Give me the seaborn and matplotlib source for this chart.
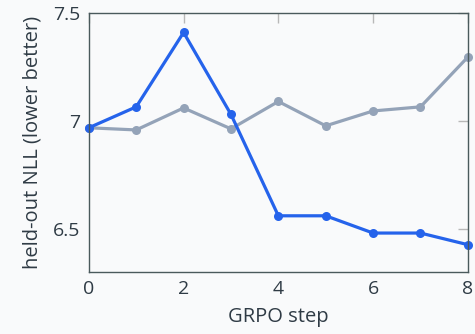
import matplotlib
matplotlib.use("Agg")
import matplotlib.pyplot as plt
import seaborn as sns
import pandas as pd

# values
steps = [0, 1, 2, 3, 4, 5, 6, 7, 8]
nll_blue = [6.968, 7.065, 7.41, 7.03, 6.56, 6.56, 6.48, 6.48, 6.426]
nll_gray = [6.968, 6.958, 7.06, 6.963, 7.09, 6.977, 7.046, 7.065, 7.296]
series_names = ["blue", "gray"]
x_ticks = [0, 2, 4, 6, 8]
y_ticks = [6.5, 7.0, 7.5]
y_tick_labels = ["6.5", "7", "7.5"]

df = pd.DataFrame({
    "step": steps * 2,
    "nll": nll_blue + nll_gray,
    "series": [series_names[0]] * len(steps) + [series_names[1]] * len(steps),
})

sns.set_style("white")
plt.rcParams["font.family"] = ["Open Sans", "DejaVu Sans"]

text_col = "#2f3b45"
bg = "#f9fafb"

fig = plt.figure(figsize=(4.75, 3.34), dpi=100, facecolor=bg)
ax = fig.add_axes([0.187, 0.186, 0.798, 0.775])
ax.set_facecolor(bg)

palette = {"blue": "#2563eb", "gray": "#94a3b8"}
sns.lineplot(data=df, x="step", y="nll", hue="series", hue_order=["gray", "blue"],
             palette=palette, marker="o", markersize=6.5, markeredgewidth=0,
             linewidth=2.3, legend=False, ax=ax, clip_on=False)

ax.set_xlim(0, 8)
ax.set_ylim(6.3, 7.5)
ax.set_xticks(x_ticks)
ax.set_yticks(y_ticks)
ax.set_yticklabels(y_tick_labels)
ax.tick_params(direction="in", length=7, width=1, color="#b8b8b8",
               top=True, right=True, labelsize=14, labelcolor=text_col, pad=6)
for s in ax.spines.values():
    s.set_color("#4a5a5c")
    s.set_linewidth(1.0)

ax.set_xlabel("GRPO step", fontsize=14.5, color=text_col, labelpad=6)
ax.set_ylabel("held-out NLL (lower better)", fontsize=14.5, color=text_col, labelpad=8)

fig.savefig("out.png", dpi=100, facecolor=bg)
